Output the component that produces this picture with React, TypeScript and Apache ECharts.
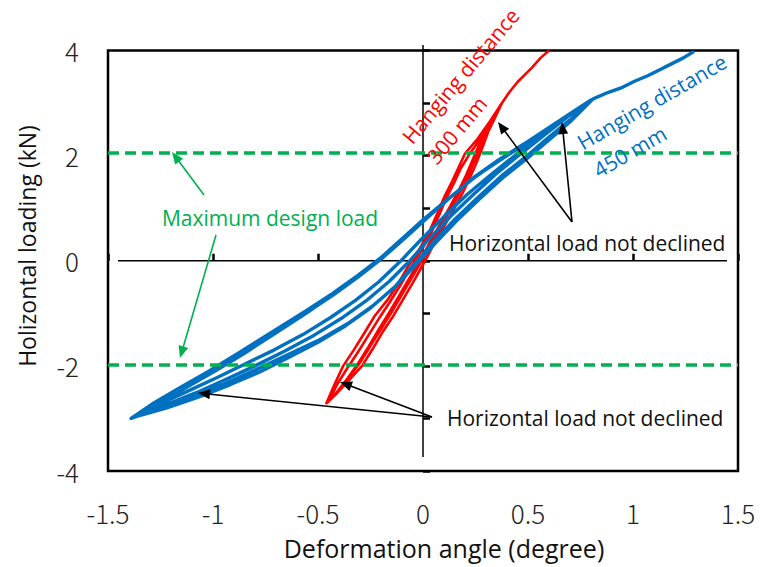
import React, { useEffect, useRef } from "react";
import * as echarts from "echarts";

// ---- data (deformation angle [deg], horizontal load [kN]) ----
const xTicks = [-1.5, -1, -0.5, 0, 0.5, 1, 1.5];
const yTicks = [-4, -2, 0, 2, 4];
const designLoads = [2.06, -1.98];

// Hanging distance 300 mm (red)
const redLoad1 = [[-0.46,-2.71],[-0.41,-2.52],[-0.35,-2.26],[-0.29,-2.00],[-0.24,-1.68],[-0.19,-1.34],[-0.14,-1.04],[-0.09,-0.70],[-0.04,-0.36],[0.01,0.00],[0.06,0.38],[0.11,0.72],[0.15,1.00],[0.19,1.30],[0.22,1.55],[0.25,1.82],[0.28,2.12],[0.31,2.45],[0.34,2.70],[0.376,3.00]];
const redUnload1 = [[0.376,3.00],[0.32,2.66],[0.26,2.32],[0.20,2.04],[0.17,1.78],[0.14,1.52],[0.10,1.20],[0.07,0.92],[0.03,0.55],[-0.02,0.20],[-0.07,-0.10],[-0.12,-0.45],[-0.17,-0.75],[-0.23,-1.05],[-0.28,-1.38],[-0.33,-1.70],[-0.38,-2.00],[-0.42,-2.34],[-0.46,-2.71]];
const redLoad2 = [[-0.45,-2.68],[-0.40,-2.46],[-0.35,-2.20],[-0.30,-1.94],[-0.25,-1.62],[-0.20,-1.30],[-0.15,-0.98],[-0.10,-0.64],[-0.05,-0.30],[0.00,0.04],[0.05,0.40],[0.10,0.76],[0.14,1.04],[0.18,1.34],[0.21,1.58],[0.24,1.86],[0.27,2.14],[0.30,2.44],[0.33,2.68],[0.37,2.97]];
const redUnload2 = [[0.37,2.97],[0.32,2.62],[0.27,2.30],[0.22,2.02],[0.18,1.76],[0.15,1.50],[0.11,1.18],[0.08,0.90],[0.04,0.54],[-0.01,0.18],[-0.06,-0.14],[-0.11,-0.48],[-0.16,-0.80],[-0.21,-1.10],[-0.26,-1.42],[-0.31,-1.74],[-0.36,-2.04],[-0.41,-2.36],[-0.45,-2.68]];
const redFinal = [[-0.45,-2.68],[-0.41,-2.50],[-0.36,-2.24],[-0.31,-1.96],[-0.26,-1.64],[-0.21,-1.30],[-0.16,-0.98],[-0.11,-0.64],[-0.06,-0.30],[-0.01,0.04],[0.04,0.40],[0.09,0.76],[0.13,1.04],[0.17,1.34],[0.20,1.58],[0.23,1.86],[0.26,2.14],[0.29,2.42],[0.33,2.72],[0.376,3.00],[0.41,3.20],[0.45,3.40],[0.49,3.56],[0.52,3.68],[0.56,3.86],[0.60,4.00]];

// Hanging distance 450 mm (blue)
const blueLoad1 = [[-1.39,-3.00],[-1.25,-2.80],[-1.10,-2.58],[-0.95,-2.35],[-0.80,-2.08],[-0.65,-1.80],[-0.50,-1.52],[-0.36,-1.20],[-0.24,-0.86],[-0.13,-0.48],[-0.04,-0.06],[0.05,0.36],[0.15,0.78],[0.26,1.20],[0.37,1.60],[0.49,1.98],[0.59,2.32],[0.70,2.68],[0.80,3.05]];
const blueUnload1 = [[0.80,3.05],[0.70,2.80],[0.60,2.52],[0.50,2.25],[0.38,1.95],[0.25,1.60],[0.12,1.18],[0.00,0.78],[-0.10,0.42],[-0.20,0.06],[-0.31,-0.28],[-0.43,-0.62],[-0.56,-0.96],[-0.72,-1.36],[-0.88,-1.76],[-1.02,-2.10],[-1.16,-2.42],[-1.28,-2.70],[-1.39,-3.00]];
const blueLoad2 = [[-1.38,-2.97],[-1.26,-2.74],[-1.12,-2.48],[-0.98,-2.22],[-0.85,-1.97],[-0.71,-1.70],[-0.57,-1.40],[-0.44,-1.08],[-0.32,-0.75],[-0.21,-0.40],[-0.11,-0.02],[-0.01,0.40],[0.10,0.84],[0.21,1.26],[0.33,1.66],[0.45,2.04],[0.56,2.38],[0.68,2.72],[0.79,3.03]];
const blueUnload2 = [[0.79,3.03],[0.69,2.76],[0.58,2.47],[0.47,2.18],[0.35,1.88],[0.23,1.54],[0.11,1.14],[0.00,0.74],[-0.10,0.38],[-0.20,0.03],[-0.31,-0.31],[-0.43,-0.66],[-0.57,-1.03],[-0.72,-1.42],[-0.87,-1.80],[-1.01,-2.14],[-1.15,-2.46],[-1.28,-2.74],[-1.38,-2.97]];
const blueLoad3 = [[-1.38,-2.98],[-1.23,-2.75],[-1.08,-2.51],[-0.94,-2.26],[-0.80,-2.00],[-0.66,-1.72],[-0.52,-1.42],[-0.39,-1.10],[-0.27,-0.76],[-0.16,-0.39],[-0.06,0.01],[0.03,0.42],[0.13,0.84],[0.24,1.26],[0.35,1.66],[0.46,2.02],[0.58,2.40],[0.69,2.74],[0.80,3.06]];
const blueUnload3 = [[0.80,3.06],[0.70,2.80],[0.59,2.51],[0.48,2.22],[0.36,1.92],[0.24,1.58],[0.12,1.17],[0.01,0.78],[-0.09,0.42],[-0.19,0.07],[-0.30,-0.27],[-0.42,-0.62],[-0.55,-0.98],[-0.70,-1.37],[-0.85,-1.76],[-0.99,-2.10],[-1.14,-2.44],[-1.27,-2.72],[-1.38,-2.98]];
const blueFinal = [[-1.38,-2.98],[-1.22,-2.80],[-1.06,-2.58],[-0.92,-2.36],[-0.78,-2.12],[-0.64,-1.84],[-0.50,-1.55],[-0.37,-1.24],[-0.25,-0.90],[-0.14,-0.52],[-0.04,-0.10],[0.06,0.34],[0.16,0.76],[0.27,1.18],[0.38,1.58],[0.50,1.96],[0.60,2.30],[0.71,2.68],[0.81,3.08],[0.88,3.20],[0.95,3.30],[1.01,3.42],[1.07,3.52],[1.13,3.64],[1.19,3.76],[1.24,3.86],[1.29,3.98]];

const redData = [...redLoad1, ...redUnload1, ...redLoad2, ...redUnload2, ...redFinal];
const blueData = [...blueLoad1, ...blueUnload1, ...blueLoad2, ...blueUnload2, ...blueLoad3, ...blueUnload3, ...blueFinal];

const RED = "#FF0000";
const BLUE = "#0070C0";
const GREEN = "#00B050";
const TXT = '"Open Sans", "Noto Sans", sans-serif';
const NUM = '"Noto Sans CJK JP", "Noto Sans", sans-serif';

function arrow(x1: number, y1: number, x2: number, y2: number, color: string, z = 100) {
  const dx = x2 - x1, dy = y2 - y1;
  const len = Math.hypot(dx, dy);
  const ux = dx / len, uy = dy / len;
  const L = 12, W = 10;
  const bx = x2 - ux * L, by = y2 - uy * L;
  const nx = -uy, ny = ux;
  return [
    { type: "line", z, silent: true, shape: { x1, y1, x2: bx + ux * 2, y2: by + uy * 2 }, style: { stroke: color, lineWidth: 1.6 } },
    { type: "polygon", z, silent: true, shape: { points: [[x2, y2], [bx + nx * W / 2, by + ny * W / 2], [bx - nx * W / 2, by - ny * W / 2]] }, style: { fill: color } },
  ];
}

function txt(text: string, x: number, y: number, color: string, size: number, align: string, vAlign: string, rotationDeg = 0, font = TXT, lineHeight?: number) {
  return {
    type: "text", z: 100, silent: true, x, y, rotation: (rotationDeg * Math.PI) / 180,
    style: { text, fill: color, fontSize: size, fontFamily: font, align, verticalAlign: vAlign, textAlign: align, textVerticalAlign: vAlign, lineHeight: lineHeight ?? size * 1.25 },
  };
}

export default function App() {
  const ref = useRef<HTMLDivElement>(null);
  useEffect(() => {
    if (!ref.current) return;
    const chart = echarts.init(ref.current, null, { renderer: "svg" });
    const option: any = {
      animation: false,
      backgroundColor: "#fff",
      grid: { left: 108, right: 39, top: 50.5, bottom: 96, show: true, borderColor: "#000", borderWidth: 2.5, backgroundColor: "transparent" },
      xAxis: {
        type: "value", min: xTicks[0], max: xTicks[xTicks.length - 1], interval: 0.5,
        axisLine: { show: false },
        axisTick: { show: true, inside: true, length: 7, lineStyle: { color: "#000", width: 2.5 } },
        splitLine: { show: false },
        axisLabel: { margin: 28, color: "#222", fontSize: 26, fontWeight: 300, fontFamily: NUM, formatter: (v: number) => (xTicks.includes(v) ? String(v) : "") },
      },
      yAxis: {
        type: "value", min: yTicks[0], max: yTicks[yTicks.length - 1], interval: 1,
        axisLine: { show: false },
        axisTick: { show: true, inside: true, length: 7, lineStyle: { color: "#000", width: 2.5 } },
        splitLine: { show: false },
        axisLabel: { margin: 29, color: "#222", fontSize: 26, fontWeight: 300, fontFamily: NUM, formatter: (v: number) => (yTicks.includes(v) ? String(v) : "") },
      },
      series: [
        {
          name: "Hanging distance 300 mm", type: "line", data: redData, showSymbol: false, symbol: "none", z: 3,
          lineStyle: { color: RED, width: 2.6, join: "round" },
          markLine: {
            silent: true, symbol: "none", label: { show: false },
            lineStyle: { color: GREEN, width: 3.5, type: [11, 6] },
            data: designLoads.map((v) => ({ yAxis: v })),
          },
        },
        {
          name: "Hanging distance 450 mm", type: "line", data: blueData, showSymbol: false, symbol: "none", z: 4,
          lineStyle: { color: BLUE, width: 3.4, join: "round" },
        },
      ],
      graphic: [
        { type: "line", z: 1, silent: true, shape: { x1: 118, y1: 260.7, x2: 727, y2: 260.7 }, style: { stroke: "#000", lineWidth: 1.5 } },
        { type: "line", z: 1, silent: true, shape: { x1: 423, y1: 45, x2: 423, y2: 457 }, style: { stroke: "#000", lineWidth: 1.5 } },
        ...arrow(204, 195, 172, 152, GREEN),
        ...arrow(216, 235, 180, 358, GREEN),
        ...arrow(572, 222, 498, 122, "#000"),
        ...arrow(572, 222, 562, 122, "#000"),
        ...arrow(432, 417, 198, 393, "#000"),
        ...arrow(432, 417, 340, 382, "#000"),
        txt("Maximum design load", 270, 218, GREEN, 21, "center", "middle"),
        txt("Horizontal load not declined", 449, 243, "#111", 21, "left", "middle"),
        txt("Horizontal load not declined", 447, 418, "#111", 21, "left", "middle"),
        txt("Hanging distance\n300 mm", 394, 130, RED, 21, "left", "top", 50, TXT, 32),
        txt("Hanging distance\n450 mm", 571, 130, BLUE, 21, "left", "top", 30, TXT, 32),
        txt("Deformation angle (degree)", 444, 548, "#111", 25, "center", "middle"),
        txt("Holizontal loading (kN)", 27, 246, "#111", 23, "center", "middle", 90),
      ],
    };
    chart.setOption(option);
    return () => chart.dispose();
  }, []);
  return <div ref={ref} style={{ position: "absolute", left: 0, top: 0, width: 777, height: 567 }} />;
}
